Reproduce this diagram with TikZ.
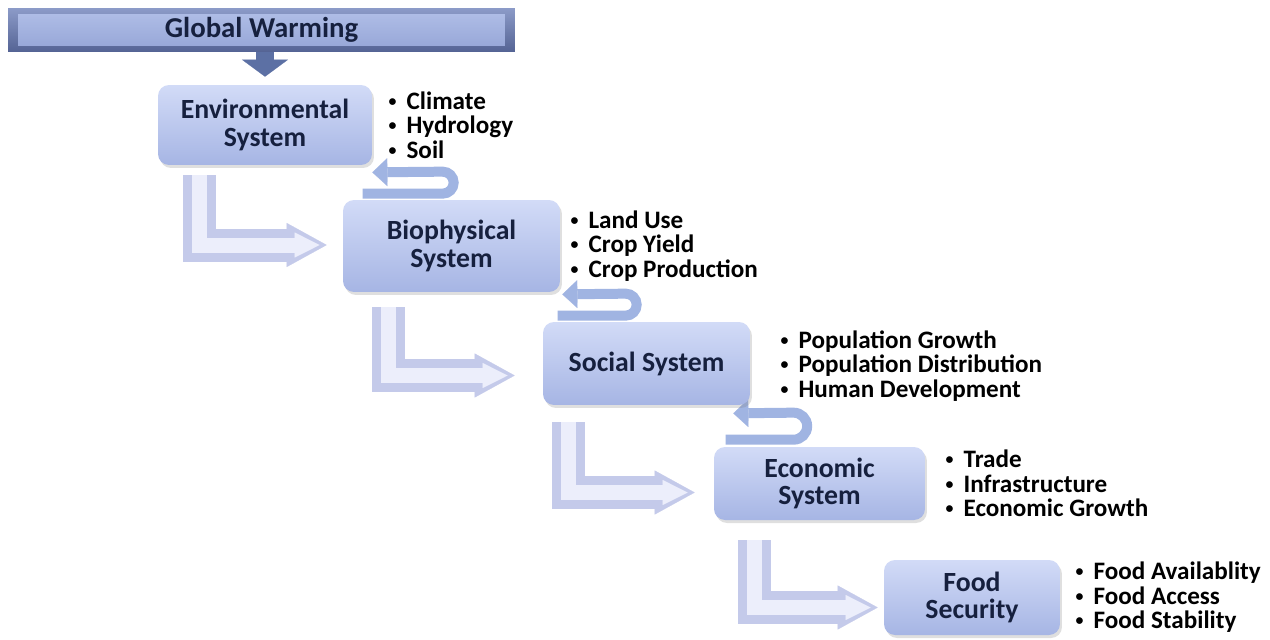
\documentclass[tikz,border=0pt]{standalone}
\usepackage{fontspec}
\setmainfont{Carlito}
\usetikzlibrary{positioning}
\usetikzlibrary{calc}
\usetikzlibrary{arrows.meta}
\usetikzlibrary{shadows}
\usetikzlibrary{backgrounds}

\definecolor{boxtop}{RGB}{210,219,247}
\definecolor{boxbot}{RGB}{166,181,228}
\definecolor{boxtext}{RGB}{22,32,62}
\definecolor{bartop}{RGB}{140,155,200}
\definecolor{barbot}{RGB}{84,99,148}
\definecolor{facetop}{RGB}{178,192,232}
\definecolor{facebot}{RGB}{148,164,214}
\definecolor{ribbon}{RGB}{160,180,226}
\definecolor{pipeout}{RGB}{196,202,234}
\definecolor{pipein}{RGB}{236,238,251}
\definecolor{downarr}{RGB}{92,112,164}

\newcommand{\itm}{\raisebox{0.12em}{\fontsize{9}{9}\selectfont\textbullet}\hspace{0.4em}}

\begin{document}
\begin{tikzpicture}[
    x=0.02cm, y=-0.02cm,
    font=\bfseries
]
\tikzset{
    sysbox/.style = {rounded corners=0.22cm, top color=boxtop, bottom color=boxbot,
        text=boxtext, align=center, inner sep=0pt,
        font=\fontsize{15.8}{15.6}\selectfont\bfseries,
        drop shadow={opacity=0.25, shadow xshift=0.04cm, shadow yshift=-0.06cm}},
    bullets/.style = {align=left, inner sep=0pt, anchor=west,
        font=\fontsize{14.3}{13.9}\selectfont\bfseries},
    gwbar/.style = {top color=bartop, bottom color=barbot, text=boxtext,
        minimum width=10.14cm, minimum height=0.88cm, inner sep=0pt,
        font=\fontsize{16.4}{17}\selectfont\bfseries,
        path picture={\fill[top color=facetop, bottom color=facebot]
            ($(path picture bounding box.north west)+(10,6)$) rectangle
            ($(path picture bounding box.south east)+(-10,-6)$);}},
    backarrow/.style = {draw=ribbon, line width=0.2cm,
        -{Triangle[length=0.3cm, width=0.56cm, line width=0.1pt]}},
    lpipe/.style = {draw=pipeout, line width=0.66cm, line join=miter,
        -{Triangle[length=0.8cm, width=0.88cm, line width=0.1pt]}},
    lpipelite/.style = {draw=pipein, line width=0.3cm, line join=miter, shorten >=0.14cm,
        -{Triangle[length=0.5cm, width=0.5cm, line width=0.1pt]}},
    sink/.style = {draw=downarr, line width=0.36cm, shorten >=0.16cm,
        -{Triangle[length=0.34cm, width=0.92cm, line width=0.1pt]}}
}
\useasboundingbox (0,0) rectangle (1270,639);

% the five systems
\node[gwbar] at (261.5,30) (gw) {Global Warming};
\node[sysbox, minimum width=4.28cm, minimum height=1.6cm] at (265,125) (env) {Environmental\\System};
\node[sysbox, minimum width=4.34cm, minimum height=1.84cm] at (451.5,246) (bio) {Biophysical\\System};
\node[sysbox, minimum width=4.14cm, minimum height=1.66cm] at (646.5,363.5) (soc) {Social System};
\node[sysbox, minimum width=4.22cm, minimum height=1.46cm] at (819.5,483.5) (eco) {Economic\\System};
\node[sysbox, minimum width=3.52cm, minimum height=1.5cm] at (972,597.5) (food) {Food\\Security};

% what each system covers
\node[bullets, right=0.32cm of env] (envlist) {\itm Climate\\\itm Hydrology\\\itm Soil};
\node[bullets, right=0.2cm of bio] (biolist) {\itm Land Use\\\itm Crop Yield\\\itm Crop Production};
\node[bullets, right=0.6cm of soc, yshift=-0.05cm] (soclist) {\itm Population Growth\\\itm Population Distribution\\\itm Human Development};
\node[bullets, right=0.4cm of eco] (ecolist) {\itm Trade\\\itm Infrastructure\\\itm Economic Growth};
\node[bullets, right=0.3cm of food] (foodlist) {\itm Food Availablity\\\itm Food Access\\\itm Food Stability};

\draw[sink] (env.north |- gw.south) -- (env.north);

% flow down the chain
\draw[lpipe] ($(env.south west)+(42,10)$) |- ($(bio.west)+(-16,-1)$);
\draw[lpipelite, xshift=0.14cm, yshift=-0.1cm] ($(env.south west)+(42,10)$) |- ($(bio.west)+(-16,-1)$);
\draw[lpipe] ($(bio.south west)+(46,15)$) |- ($(soc.west)+(-28,12)$);
\draw[lpipelite, xshift=0.14cm, yshift=-0.1cm] ($(bio.south west)+(46,15)$) |- ($(soc.west)+(-28,12)$);
\draw[lpipe] ($(soc.south west)+(26,17)$) |- ($(eco.west)+(-19,9)$);
\draw[lpipelite, xshift=0.14cm, yshift=-0.1cm] ($(soc.south west)+(26,17)$) |- ($(eco.west)+(-19,9)$);
\draw[lpipe] ($(eco.south west)+(41,20)$) |- ($(food.west)+(-6,10)$);
\draw[lpipelite, xshift=0.14cm, yshift=-0.1cm] ($(eco.south west)+(41,20)$) |- ($(food.west)+(-6,10)$);

% feedback back up
\begin{scope}[on background layer]
\fill[white] (0,0) rectangle (1270,639);
\draw[backarrow] ($(bio.north west)+(20,-6)$) -- ++(80,0)
    arc[start angle=-90, end angle=90, radius=0.22cm] -- ($(env.south east)+(0,7)$);
\draw[backarrow] ($(soc.north west)+(15,-6)$) -- ++(68,0)
    arc[start angle=-90, end angle=90, radius=0.22cm] -- ($(bio.south east)+(2,2)$);
\draw[backarrow] ($(eco.north west)+(12,-7)$) -- ++(68,0)
    arc[start angle=-90, end angle=90, radius=0.27cm] -- ($(soc.south east)+(-17,8)$);
\end{scope}
\end{tikzpicture}
\end{document}
